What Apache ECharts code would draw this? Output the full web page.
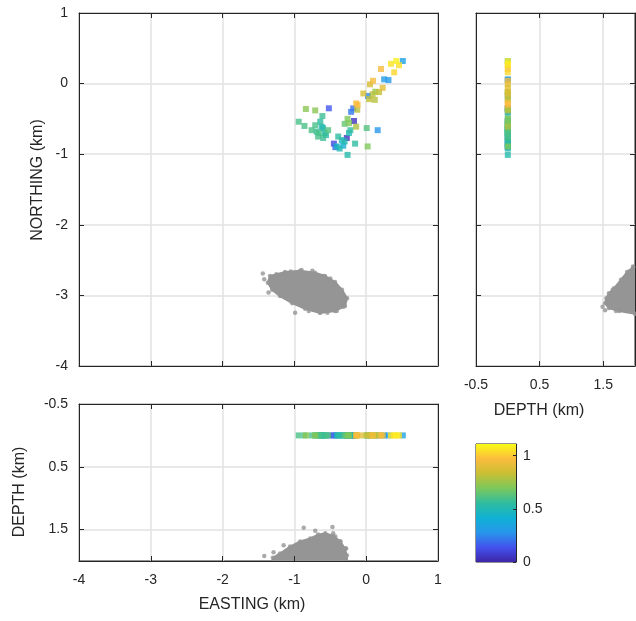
<!DOCTYPE html>
<html><head><meta charset="utf-8">
<script src="https://cdn.jsdelivr.net/npm/echarts@6/dist/echarts.min.js"></script>
<style>html,body{margin:0;padding:0;background:#fff}#c{width:636px;height:621px}</style>
</head><body><div id="c"></div>
<script>
// ---- colored events (km), value on colour scale ----
const EAST  = [0.42,0.51,0.345,0.457,0.39,0.206,0.25,0.31,0.095,0.053,0.23,0.18,0.127,0.09,0.04,0.12,0.025,-0.04,-0.14,-0.12,-0.21,-0.18,-0.125,-0.17,-0.14,-0.26,-0.30,-0.24,-0.22,-0.24,0.007,0.16,0.02,-0.155,-0.52,-0.84,-0.71,-0.94,-0.86,-0.61,-0.64,-0.71,-0.76,-0.69,-0.60,-0.53,-0.67,-0.60,-0.56,-0.62,-0.66,-0.58,-0.39,-0.34,-0.30,-0.41,-0.37,-0.27,-0.43,-0.26,-0.45,-0.32];
const NORTH = [0.32,0.32,0.28,0.26,0.16,0.207,0.06,0.05,0.04,-0.01,-0.06,-0.12,-0.115,-0.15,-0.22,-0.23,-0.175,-0.14,-0.28,-0.30,-0.40,-0.35,-0.37,-0.53,-0.61,-0.50,-0.57,-0.56,-0.66,-0.70,-0.63,-0.66,-0.89,-0.85,-0.35,-0.36,-0.38,-0.54,-0.60,-0.46,-0.54,-0.59,-0.66,-0.68,-0.63,-0.66,-0.75,-0.77,-0.73,-0.61,-0.70,-0.70,-0.75,-0.80,-0.82,-0.89,-0.92,-0.77,-0.90,-1.01,-0.85,-0.88];
const VAL   = [1.08,0.33,1.06,1.05,1.03,0.96,0.30,0.30,0.95,0.88,0.90,0.82,0.75,0.80,0.82,0.80,0.25,0.88,0.97,0.95,0.22,0.20,0.80,0.05,0.78,0.70,0.65,0.70,0.55,0.50,0.62,0.28,0.70,0.55,0.15,0.72,0.72,0.60,0.60,0.58,0.55,0.60,0.60,0.57,0.50,0.62,0.60,0.58,0.55,0.52,0.60,0.55,0.55,0.48,0.50,0.45,0.50,0.05,0.18,0.52,0.10,0.40];
const EVENT_DEPTH = 0;

// ---- gray cloud: dense core outline + fringe dots ----
const CORE_MAP_E   = [-1.34,-1.13,-0.92,-0.713,-0.574,-0.434,-0.337,-0.267,-0.295,-0.434,-0.643,-0.85,-1.03,-1.20,-1.31,-1.37];
const CORE_MAP_N   = [-2.725,-2.67,-2.65,-2.68,-2.725,-2.81,-2.92,-3.04,-3.15,-3.22,-3.25,-3.19,-3.11,-3.01,-2.92,-2.82];
const DOTS_MAP_E   = [-1.44,-1.42,-1.36,-0.90,-0.75,-0.60,-0.43,-0.99,-0.54,-0.41,-0.30,-0.32,-1.25,-1.05,-0.80,-0.50];
const DOTS_MAP_N   = [-2.69,-2.77,-2.96,-2.64,-2.65,-2.725,-2.85,-3.245,-3.245,-3.22,-3.07,-3.16,-2.70,-2.66,-3.22,-2.76];

const CORE_SIDE_D  = [2.3,1.97,1.875,1.78,1.67,1.59,1.55,1.53,1.59,1.75,2.0,2.3];
const CORE_SIDE_N  = [-2.55,-2.6,-2.67,-2.78,-2.90,-2.97,-3.04,-3.11,-3.18,-3.22,-3.26,-3.3];
const DOTS_SIDE_D  = [1.49,1.53,1.60,1.65,1.80,1.91,1.97,1.70];
const DOTS_SIDE_N  = [-3.16,-3.21,-3.07,-2.92,-2.78,-2.66,-2.59,-3.22];

const CORE_FRONT_E = [-1.35,-1.30,-1.20,-1.06,-0.92,-0.78,-0.67,-0.57,-0.46,-0.36,-0.30,-0.27,-0.25];
const CORE_FRONT_D = [2.3,1.95,1.88,1.77,1.69,1.64,1.58,1.56,1.60,1.69,1.80,1.91,2.3];
const DOTS_FRONT_E = [-0.87,-0.71,-0.47,-0.46,-0.43,-1.15,-1.29,-0.36,-0.28,-1.42,-0.29];
const DOTS_FRONT_D = [1.47,1.52,1.46,1.56,1.61,1.75,1.86,1.69,1.80,1.92,1.80];

// ---- axes / ticks ----
const EN_TICKS = [-4,-3,-2,-1,0,1];
const DEPTH_TICKS = [-0.5,0.5,1.5];
const CBAR_TICKS = [0,0.5,1];
const CMIN = 0, CMAX = 1.11;

const PARULA = ['#3e26a8','#4352ee','#2797eb','#0fb1d3','#2fbc9e','#7cc85c','#c9bf34','#fcbc3d','#f9fb15'];
const GRAY = '#959595';
const INK = '#262626';
const FONT = 'Liberation Sans, Arial, Helvetica, sans-serif';
const GRID_C = '#e2e2e2';

const zip = (a,b) => a.map((v,i)=>[v,b[i]]);

function mkAxis(gi, pos, min, max, o) {
  o = o || {};
  const custom = o.ticks;
  const ax = {
    gridIndex: gi, position: pos, min: min, max: max, interval: o.interval || 1,
    inverse: !!o.inverse,
    axisLine: {show: true, onZero: false, lineStyle: {color: INK, width: 1}},
    axisTick: {show: !o.noTick, inside: true, length: o.tickLen || 5, lineStyle: {color: INK, width: 1}},
    axisLabel: {show: !!o.labels, color: INK, fontFamily: FONT, fontSize: 14, margin: o.margin || 12,
      showMinLabel: true, showMaxLabel: true, formatter: v => String(v)},
    splitLine: {show: !!o.split, lineStyle: {color: GRID_C, width: 1.5}},
    z: o.split ? 1 : 5
  };
  if (custom) { ax.axisTick.customValues = custom; ax.axisLabel.customValues = custom; }
  return ax;
}

const grids = [
  {left: 79, top: 13, width: 359, height: 353},
  {left: 476, top: 13, width: 159, height: 353},
  {left: 79, top: 404, width: 359, height: 157},
  {left: 476, top: 444, width: 40, height: 118}
];

// primary axes (bottom/left) carry labels and draw on top; secondary axes (top/right) carry grid lines underneath
const xAxis = [
  mkAxis(0,'bottom',-4,1,{}),
  mkAxis(0,'top',-4,1,{split:true}),
  mkAxis(1,'bottom',-0.5,2,{labels:true,ticks:DEPTH_TICKS}),
  mkAxis(1,'top',-0.5,2,{split:true,ticks:DEPTH_TICKS}),
  mkAxis(2,'bottom',-4,1,{labels:true}),
  mkAxis(2,'top',-4,1,{split:true}),
  Object.assign(mkAxis(3,'bottom',0,1,{noTick:true}), {show:false})
];
const yAxis = [
  mkAxis(0,'left',-4,1,{labels:true,margin:11}),
  mkAxis(0,'right',-4,1,{split:true}),
  mkAxis(1,'left',-4,1,{}),
  mkAxis(1,'right',-4,1,{split:true}),
  mkAxis(2,'left',-0.5,2,{labels:true,inverse:true,ticks:DEPTH_TICKS,margin:11}),
  mkAxis(2,'right',-0.5,2,{split:true,inverse:true,ticks:DEPTH_TICKS}),
  mkAxis(3,'right',CMIN,CMAX,{labels:true,ticks:CBAR_TICKS,tickLen:3,margin:7})
];

function polySeries(xi, yi, pts) {
  return {
    type: 'custom', xAxisIndex: xi, yAxisIndex: yi, data: [pts[0]], silent: true, z: 2,
    renderItem: function (params, api) {
      const cs = params.coordSys;
      return {
        type: 'polygon',
        shape: {points: pts.map(p => api.coord(p))},
        style: {fill: GRAY, stroke: GRAY, lineWidth: 2},
        clipPath: {type: 'rect', shape: {x: cs.x, y: cs.y, width: cs.width, height: cs.height}}
      };
    }
  };
}
function dotSeries(xi, yi, data) {
  return {type: 'scatter', xAxisIndex: xi, yAxisIndex: yi, data: data, symbol: 'circle',
    symbolSize: 4.5, itemStyle: {color: GRAY}, silent: true, clip: true, z: 2};
}
function evSeries(xi, yi, data) {
  return {type: 'scatter', xAxisIndex: xi, yAxisIndex: yi, data: data, symbol: 'rect',
    symbolSize: 6, silent: true, clip: true, z: 3};
}

const mapCore = zip(CORE_MAP_E, CORE_MAP_N);
const sideCore = zip(CORE_SIDE_D, CORE_SIDE_N);
const frontCore = zip(CORE_FRONT_E, CORE_FRONT_D);
// draw events in ascending colour value so higher values sit on top
const order = VAL.map((v,i)=>i).sort((a,b)=>VAL[a]-VAL[b]);

const series = [
  polySeries(1,1,mapCore),
  dotSeries(0,0, zip(DOTS_MAP_E, DOTS_MAP_N).concat(mapCore)),
  polySeries(3,3,sideCore),
  dotSeries(2,2, zip(DOTS_SIDE_D, DOTS_SIDE_N).concat(sideCore)),
  polySeries(5,5,frontCore),
  dotSeries(4,4, zip(DOTS_FRONT_E, DOTS_FRONT_D).concat(frontCore)),
  evSeries(0,0, order.map(i=>[EAST[i], NORTH[i], VAL[i]])),
  evSeries(2,2, order.map(i=>[EVENT_DEPTH, NORTH[i], VAL[i]])),
  evSeries(4,4, order.map(i=>[EAST[i], EVENT_DEPTH, VAL[i]])),
  {
    type: 'custom', xAxisIndex: 6, yAxisIndex: 6, data: [[0, CMIN]], silent: true, z: 1,
    renderItem: function (params, api) {
      const p0 = api.coord([0, CMIN]), p1 = api.coord([1, CMAX]);
      return {type: 'rect',
        shape: {x: p0[0], y: p1[1], width: p1[0]-p0[0], height: p0[1]-p1[1]},
        style: {fill: {type: 'linear', x: 0, y: 1, x2: 0, y2: 0,
          colorStops: PARULA.map((c,i)=>({offset: i/(PARULA.length-1), color: c}))}}};
    }
  }
];

const chart = echarts.init(document.getElementById('c'), null, {renderer: 'canvas'});
const label = (text, x, y, rot) => ({type: 'text', x: x, y: y, rotation: rot || 0,
  style: {text: text, font: '16px ' + FONT, fill: INK, align: 'center', verticalAlign: 'middle'}});
chart.setOption({
  animation: false,
  backgroundColor: '#fff',
  grid: grids.map(g => Object.assign({show: true, borderColor: INK, borderWidth: 1, backgroundColor: 'transparent', containLabel: false}, g)),
  xAxis: xAxis, yAxis: yAxis,
  visualMap: {type: 'continuous', show: false, min: CMIN, max: CMAX, dimension: 2,
    seriesIndex: [6,7,8], inRange: {color: PARULA}},
  series: series,
  graphic: [
    label('NORTHING (km)', 38, 180, Math.PI/2),
    label('EASTING (km)', 252, 605),
    label('DEPTH (km)', 539, 411),
    label('DEPTH (km)', 20, 492, Math.PI/2)
  ]
});
</script>
</body></html>
